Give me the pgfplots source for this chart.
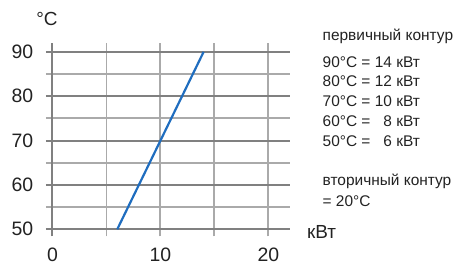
\documentclass[border=0pt]{standalone}
\usepackage{fontspec}
\setmainfont{Liberation Sans}
\usepackage{pgfplots}
\pgfplotsset{compat=1.18}
\definecolor{gridmaj}{HTML}{808080}
\definecolor{gridmin}{HTML}{AAAAAA}
\definecolor{lineblue}{HTML}{1F6DBF}
\definecolor{txt}{HTML}{222222}
\begin{document}
\begin{tikzpicture}
\begin{axis}[
 scale only axis, width=244bp, height=193.4bp,
 xmin=-0.6, xmax=22, ymin=48.4, ymax=92,
 axis line style={draw=none},
 xtick={10,20}, minor xtick={5,15}, extra x ticks={0},
 ytick={50,60,...,90}, minor ytick={55,65,75,85},
 grid=both,
 major tick length=0pt, minor tick length=0pt,
 major x grid style={gridmin, line width=1.9pt},
 minor x grid style={gridmin, line width=1.9pt},
 major y grid style={gridmaj, line width=2pt},
 minor y grid style={gridmin, line width=1.9pt},
 extra x tick style={major x grid style={gridmaj, line width=2pt}},
 /pgf/number format/assume math mode=true,
 ticklabel style={font=\fontsize{19.5}{19.5}\selectfont, text=txt, inner sep=0pt},
 yticklabel style={anchor=east, xshift=-12.5bp},
 xticklabel style={anchor=north, yshift=-11bp},
 clip=false,
]
\addplot[lineblue, line width=2.2pt] coordinates {(6,50) (14,90)};
\end{axis}
\coordinate (TL) at ([xshift=-46bp,yshift=43bp]current axis.north west);
\path[use as bounding box] (TL) rectangle ([xshift=460bp,yshift=-265bp]TL);
\begin{scope}[every node/.style={text=txt, inner sep=0pt}]
\node[font=\fontsize{19}{19}\selectfont] at ([xshift=47bp,yshift=-19bp]TL) {°C};
\node[font=\fontsize{19}{19}\selectfont, anchor=west] at ([xshift=307bp,yshift=-231.5bp]TL) {кВт};
\begin{scope}[every node/.append style={font=\fontsize{15.5}{15.5}\selectfont, anchor=west}]
\node at ([xshift=322.5bp,yshift=-36.7bp]TL) {первичный контур};
\node at ([xshift=322.5bp,yshift=-62bp]TL) {90°C = 14 кВт};
\node at ([xshift=322.5bp,yshift=-81.3bp]TL) {80°C = 12 кВт};
\node at ([xshift=322.5bp,yshift=-101bp]TL) {70°C = 10 кВт};
\node at ([xshift=322.5bp,yshift=-121bp]TL) {60°C = \hphantom{1}8 кВт};
\node at ([xshift=322.5bp,yshift=-140.7bp]TL) {50°C = \hphantom{1}6 кВт};
\node at ([xshift=322.5bp,yshift=-181.7bp]TL) {вторичный контур};
\node at ([xshift=322.5bp,yshift=-200.7bp]TL) {= 20°C};
\end{scope}
\end{scope}
\end{tikzpicture}
\end{document}
